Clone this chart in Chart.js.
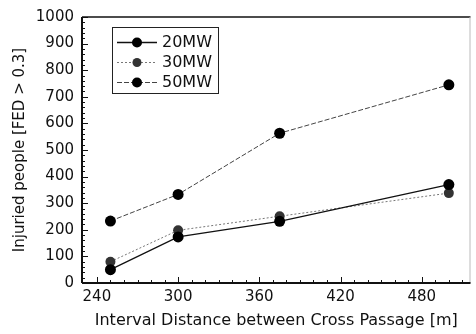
<!DOCTYPE html>
<html><head><meta charset="utf-8">
<script src="https://cdn.jsdelivr.net/npm/chart.js@4"></script>
<style>html,body{margin:0;padding:0;background:#fff;}canvas{display:block;}</style>
</head><body>
<canvas id="c" width="476" height="334"></canvas>
<script>
const distances = [250, 300, 375, 500];
const mw20 = [50, 173, 232, 370];
const mw30 = [80, 198, 251, 338];
const mw50 = [233, 333, 563, 745];
const seriesLabels = ['20MW', '30MW', '50MW'];
const xTickValues = [240, 300, 360, 420, 480];
const yTickValues = [0, 100, 200, 300, 400, 500, 600, 700, 800, 900, 1000];
const xTitle = 'Interval Distance between Cross Passage [m]';
const yTitle = 'Injuried people [FED > 0.3]';

const FONT = '"DejaVu Sans", sans-serif';

const minorTicks = {
  id: 'minorTicks',
  afterDraw(chart) {
    const ctx = chart.ctx, xs = chart.scales.x, ys = chart.scales.y, a = chart.chartArea;
    ctx.save();
    ctx.strokeStyle = '#111';
    ctx.lineWidth = 1;
    ctx.beginPath();
    for (let v = 240; v <= xs.max; v += 10) {
      const px = Math.round(xs.getPixelForValue(v)) + 0.5;
      const len = (v - 240) % 60 === 0 ? 6 : 3;
      ctx.moveTo(px, a.bottom); ctx.lineTo(px, a.bottom - len);
    }
    for (let v = 0; v <= 1000; v += 20) {
      const py = Math.round(ys.getPixelForValue(v)) + 0.5;
      const len = v % 100 === 0 ? 6 : 3;
      ctx.moveTo(a.left, py); ctx.lineTo(a.left + len, py);
    }
    ctx.stroke();
    ctx.lineWidth = 1.5;
    ctx.strokeStyle = '#111';
    ctx.beginPath();
    ctx.moveTo(a.left, a.top); ctx.lineTo(a.right, a.top);
    ctx.stroke();
    ctx.lineWidth = 1;
    ctx.strokeStyle = '#bbb';
    ctx.beginPath();
    ctx.moveTo(a.right - 0.5, a.top); ctx.lineTo(a.right - 0.5, a.bottom);
    ctx.stroke();
    ctx.lineWidth = 2;
    ctx.strokeStyle = '#111';
    ctx.beginPath();
    ctx.moveTo(a.left, a.bottom); ctx.lineTo(a.right, a.bottom);
    ctx.moveTo(a.left, a.top); ctx.lineTo(a.left, a.bottom);
    ctx.stroke();
    ctx.restore();
  }
};

const boxLegend = {
  id: 'boxLegend',
  afterDraw(chart) {
    const ctx = chart.ctx;
    const bx = 112, by = 27, bw = 106, bh = 66;
    ctx.save();
    ctx.strokeStyle = '#222';
    ctx.lineWidth = 1;
    ctx.strokeRect(bx + 0.5, by + 0.5, bw, bh);
    chart.data.datasets.forEach((ds, i) => {
      const y = by + 15 + i * 20;
      ctx.strokeStyle = ds.borderColor;
      ctx.lineWidth = ds.borderWidth;
      ctx.setLineDash(ds.borderDash || []);
      ctx.beginPath();
      ctx.moveTo(bx + 5, y + 0.5); ctx.lineTo(bx + 45, y + 0.5);
      ctx.stroke();
      ctx.setLineDash([]);
      ctx.fillStyle = ds.pointBackgroundColor;
      ctx.beginPath();
      ctx.arc(bx + 25, y + 0.5, ds.pointRadius - 0.5, 0, Math.PI * 2);
      ctx.fill();
      ctx.fillStyle = '#111';
      ctx.font = '16px ' + FONT;
      ctx.textBaseline = 'middle';
      ctx.textAlign = 'left';
      ctx.fillText(ds.label, bx + 50, y + 1);
    });
    ctx.restore();
  }
};

new Chart(document.getElementById('c'), {
  type: 'line',
  data: {
    datasets: [
      { label: seriesLabels[0], data: distances.map((d, i) => ({x: d, y: mw20[i]})),
        borderColor: '#111', borderWidth: 1.3, pointBackgroundColor: '#000', pointBorderColor: '#000',
        pointRadius: 5.5, pointBorderWidth: 0 },
      { label: seriesLabels[1], data: distances.map((d, i) => ({x: d, y: mw30[i]})),
        borderColor: '#777', borderWidth: 1, borderDash: [2, 2], pointBackgroundColor: '#333', pointBorderColor: '#555',
        pointRadius: 5, pointBorderWidth: 0 },
      { label: seriesLabels[2], data: distances.map((d, i) => ({x: d, y: mw50[i]})),
        borderColor: '#444', borderWidth: 1, borderDash: [5, 2], pointBackgroundColor: '#000', pointBorderColor: '#000',
        pointRadius: 5.5, pointBorderWidth: 0 }
    ]
  },
  options: {
    responsive: false,
    animation: false,
    layout: { padding: { top: 16, right: 1, left: 0, bottom: 0 } },
    plugins: { legend: { display: false }, tooltip: { enabled: false } },
    scales: {
      x: {
        type: 'linear', min: 229, max: 516,
        afterBuildTicks(s) { s.ticks = xTickValues.map(v => ({ value: v })); },
        afterFit(s) { s.height = 51; },
        grid: { display: false, drawTicks: false },
        border: { display: false },
        ticks: { color: '#111', padding: 5, font: { family: FONT, size: 15 }, maxRotation: 0,
                 callback: v => String(v) },
        title: { display: true, text: xTitle, color: '#111', padding: { top: 0, bottom: 4 }, font: { family: FONT, size: 16 } }
      },
      y: {
        type: 'linear', min: 0, max: 1000,
        afterBuildTicks(s) { s.ticks = yTickValues.map(v => ({ value: v })); },
        afterFit(s) { s.width = 82; },
        grid: { display: false, drawTicks: false },
        border: { display: false },
        ticks: { color: '#111', padding: 8, font: { family: FONT, size: 15 }, callback: v => String(v) },
        title: { display: true, text: yTitle, color: '#111', padding: { top: 11, bottom: 0 }, font: { family: FONT, size: 15 } }
      }
    }
  },
  plugins: [minorTicks, boxLegend]
});
</script>
</body></html>
